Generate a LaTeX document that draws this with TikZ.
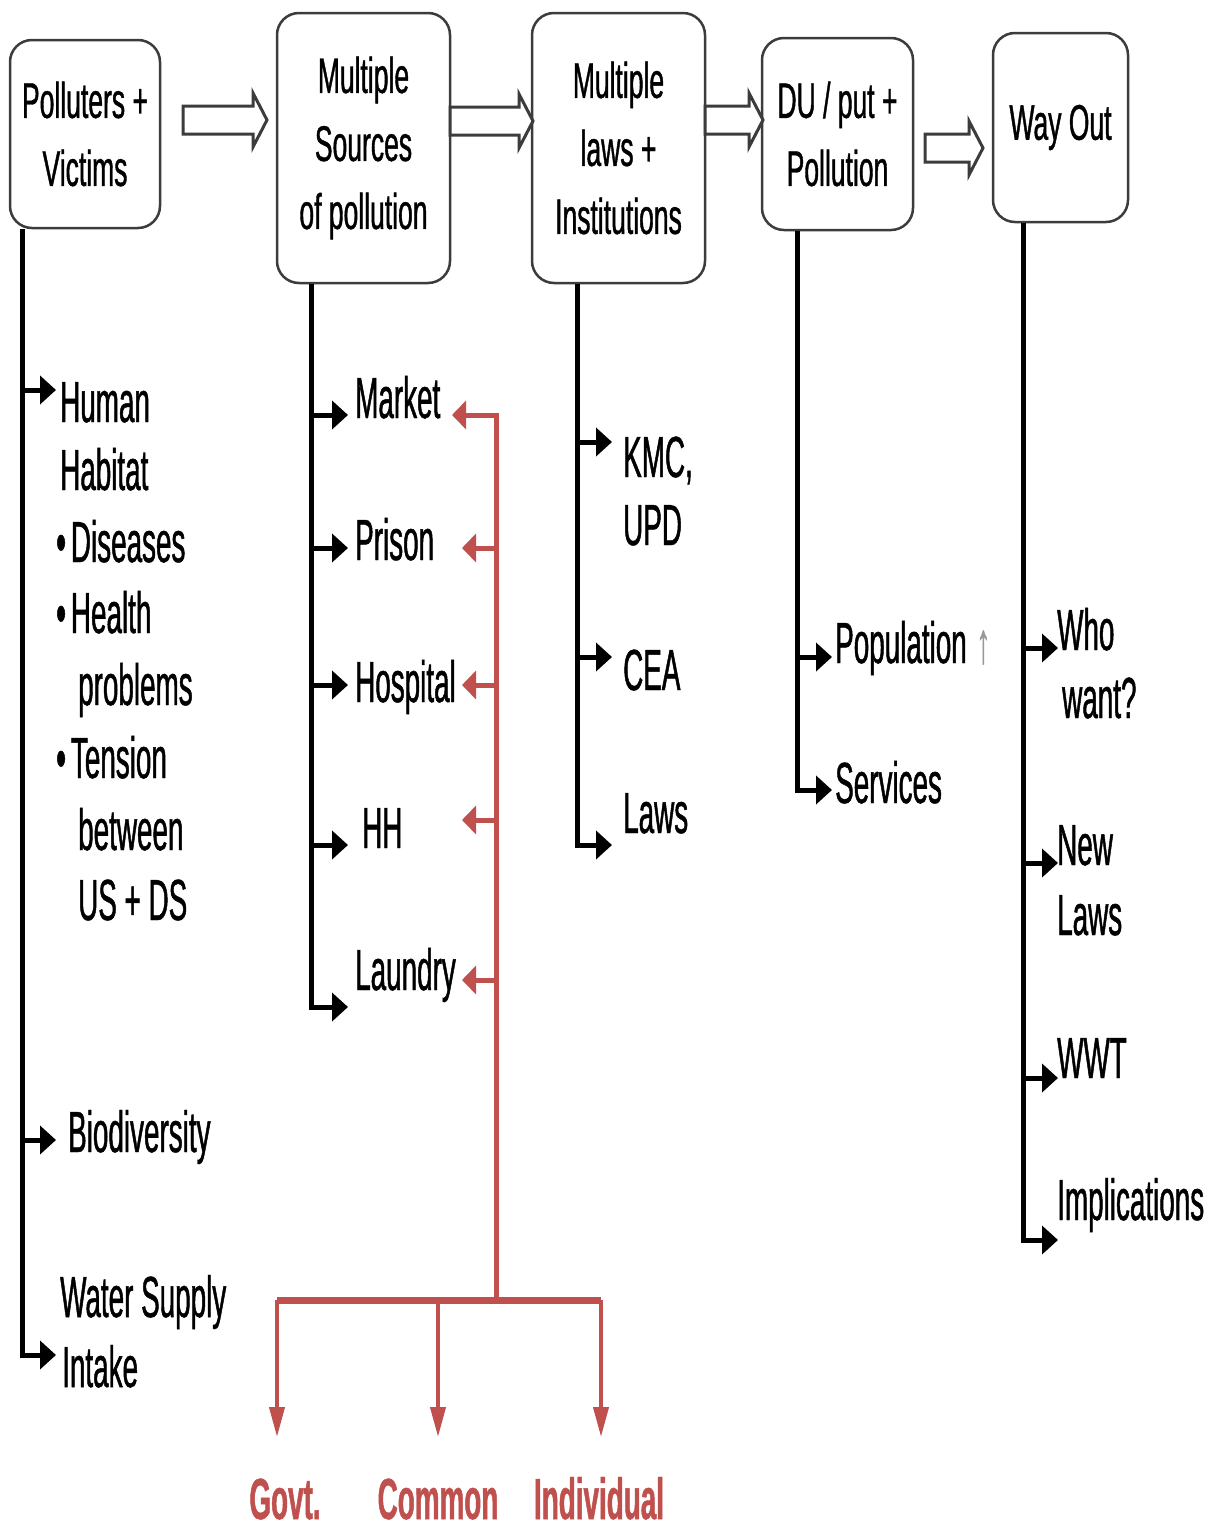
\documentclass[tikz,border=0pt]{standalone}
\usepackage{fontspec}
\usetikzlibrary{arrows.meta}
\newfontfamily\narrowsans[FakeStretch=0.48,FakeBold=0.8]{Liberation Sans}
\newfontfamily\boxsans[FakeStretch=0.53,FakeBold=0.8]{Liberation Sans}
\definecolor{accent}{RGB}{192,80,77}
\definecolor{edge}{RGB}{60,60,60}
\tikzset{
  pics/blockarrow/.style={code={
    \draw[edge, line width=3pt, fill=white]
      (0,-14) -- (#1-14,-14) -- (#1-14,-27) -- (#1,0) -- (#1-14,27) -- (#1-14,14) -- (0,14) -- cycle;}}
}
\begin{document}
\begin{tikzpicture}[x=1pt,y=-1pt,
  stage/.style={draw=edge, line width=2.5pt, rounded corners=22pt, fill=white, inner sep=0pt,
    align=center, font=\boxsans\fontsize{50}{68}\selectfont},
  item/.style={anchor=base west, inner sep=0pt, font=\narrowsans\fontsize{58}{70}\selectfont},
  outcome/.style={anchor=base, inner sep=0pt, text=accent,
    font=\narrowsans\bfseries\fontsize{58}{70}\selectfont},
  branch/.style={line width=5pt, -{Triangle[length=16pt,width=28pt]}},
  feed/.style={draw=accent, line width=5pt, -{Triangle[length=14pt,width=28pt]}},
  fork/.style={draw=accent, line width=4pt, -{Triangle[length=30pt,width=15pt]}},
]
\useasboundingbox[fill=white] (0,0) rectangle (1217,1531);

% ---- stage boxes ----
\node[stage, minimum width=150pt, minimum height=188pt] (b1) at (85,134) {Polluters +\\Victims};
\node[stage, minimum width=173pt, minimum height=270pt] (b2) at (363.5,148) {Multiple\\Sources\\of pollution};
\node[stage, minimum width=173pt, minimum height=270pt] (b3) at (618.5,148) {Multiple\\laws +\\Institutions};
\node[stage, minimum width=151pt, minimum height=192pt] (b4) at (837.5,134) {DU / put +\\Pollution};
\node[stage, minimum width=135pt, minimum height=189pt] (b5) at (1060.5,127.5) {Way Out};

% ---- block arrows between stages ----
\pic at (183,120) {blockarrow=84};
\pic at (450,121) {blockarrow=83};
\pic at (705,120) {blockarrow=58};
\pic at (925,148) {blockarrow=58};

% ---- trunk positions ----
\coordinate (t1) at (22,0);
\coordinate (t2) at (311,0);
\coordinate (t3) at (577,0);
\coordinate (t4) at (797,0);
\coordinate (t5) at (1023,0);

% ---- column 1: polluters and victims ----
\node[item] (human) at (60,422) {Human};
\node[item] (habitat) at (60,490) {Habitat};
\node[item] (dis) at (56,562) {•\hspace{5pt}Diseases};
\node[item] (hea) at (56,633) {•\hspace{5pt}Health};
\node[item] (prob) at (78,705) {problems};
\node[item] (ten) at (56,778) {•\hspace{5pt}Tension};
\node[item] (betw) at (78,850) {between};
\node[item] (usds) at (78,920) {US + DS};
\node[item] (bio) at (68,1152) {Biodiversity};
\node[item] (ws) at (60,1317) {Water Supply};
\node[item] (intake) at (62,1387) {Intake};
\coordinate (e1a) at (56,390);
\coordinate (e1b) at (56,1140);
\coordinate (e1c) at (56,1355);
\draw[branch] (b1.south -| t1) |- (e1c);
\draw[branch] (e1a -| t1) -- (e1a);
\draw[branch] (e1b -| t1) -- (e1b);

% ---- column 2: sources ----
\node[item] (market) at (355,418) {Market};
\node[item] (prison) at (355,560) {Prison};
\node[item] (hosp) at (355,702) {Hospital};
\node[item] (hh) at (362,848) {HH};
\node[item] (laundry) at (355,990) {Laundry};
\coordinate (e2a) at (348,415);
\coordinate (e2b) at (348,548);
\coordinate (e2c) at (348,685);
\coordinate (e2d) at (348,845);
\coordinate (e2e) at (348,1007);
\draw[branch] (b2.south -| t2) |- (e2e);
\foreach \e in {e2a,e2b,e2c,e2d} \draw[branch] (\e -| t2) -- (\e);

% ---- column 3: laws and institutions ----
\node[item] (kmc) at (623,477) {KMC,};
\node[item] (upd) at (623,545) {UPD};
\node[item] (cea) at (623,690) {CEA};
\node[item] (laws) at (623,833) {Laws};
\coordinate (e3a) at (612,442);
\coordinate (e3b) at (612,657);
\coordinate (e3c) at (612,845);
\draw[branch] (b3.south -| t3) |- (e3c);
\foreach \e in {e3a,e3b} \draw[branch] (\e -| t3) -- (\e);

% ---- column 4: disposal ----
\node[item] (pop) at (835,663) {Population\,{\color{gray!80}↑}};
\node[item] (serv) at (835,803) {Services};
\coordinate (e4a) at (832,657);
\coordinate (e4b) at (832,790);
\draw[branch] (b4.south -| t4) |- (e4b);
\draw[branch] (e4a -| t4) -- (e4a);

% ---- column 5: way out ----
\node[item] (who) at (1057,650) {Who};
\node[item] (want) at (1062,718) {want?};
\node[item] (new) at (1057,865) {New};
\node[item] (nlaws) at (1057,935) {Laws};
\node[item] (wwt) at (1057,1078) {WWT};
\node[item] (impl) at (1057,1220) {Implications};
\coordinate (e5a) at (1058,648);
\coordinate (e5b) at (1058,863);
\coordinate (e5c) at (1058,1078);
\coordinate (e5d) at (1058,1240);
\draw[branch] (b5.south -| t5) |- (e5d);
\foreach \e in {e5a,e5b,e5c} \draw[branch] (\e -| t5) -- (\e);

% ---- responsibility network ----
\coordinate (rj) at (496,1300);
\coordinate (fa) at (452,415);
\coordinate (fb) at (462,548);
\coordinate (fc) at (462,685);
\coordinate (fd) at (462,820);
\coordinate (fe) at (462,980);
\draw[feed] (rj) |- (fa);
\foreach \f in {fb,fc,fd,fe} \draw[feed] (\f -| rj) -- (\f);

\node[outcome] (govt) at (285,1519) {Govt.};
\node[outcome] (common) at (438,1519) {Common};
\node[outcome] (indiv) at (599,1519) {Individual};
\coordinate (dg) at (277,1437);
\coordinate (dc) at (438,1437);
\coordinate (di) at (601,1437);
\draw[accent, line width=7pt] (dg |- rj) -- (di |- rj);
\foreach \d in {dg,dc,di} \draw[fork] (\d |- rj) -- (\d);
\end{tikzpicture}
\end{document}
